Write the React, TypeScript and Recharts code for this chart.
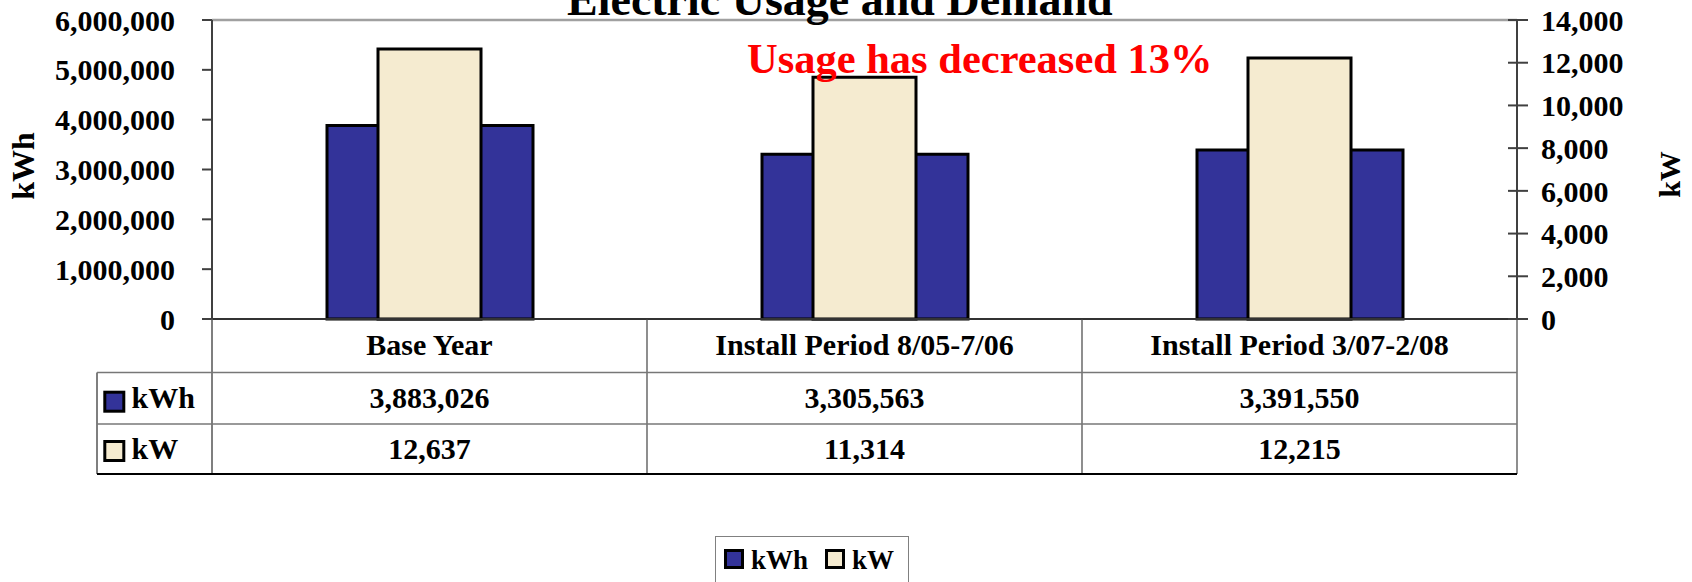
import React from 'react';
import { BarChart, Bar, XAxis, YAxis, Legend, ReferenceLine } from 'recharts';

const categories = ['Base Year', 'Install Period 8/05-7/06', 'Install Period 3/07-2/08'];
const seriesNames = ['kWh', 'kW'];
const kwhValues = [3883026, 3305563, 3391550];
const kwValues = [12637, 11314, 12215];
const kwhTicks = [0, 1000000, 2000000, 3000000, 4000000, 5000000, 6000000];
const kwTicks = [0, 2000, 4000, 6000, 8000, 10000, 12000, 14000];

const W = 1692;
const H = 582;
const PLOT_LEFT = 212;
const PLOT_RIGHT = 1517;
const PLOT_TOP = 20;
const PLOT_BOTTOM = 319;
const BAND = (PLOT_RIGHT - PLOT_LEFT) / categories.length;
const ROW1 = 372.5;
const ROW2 = 424;
const TABLE_BOTTOM = 474;
const TABLE_LEFT = 97;

const FONT = '"Liberation Serif", "Times New Roman", Times, serif';
const KWH_FILL = '#333399';
const KW_FILL = '#F5EBD0';

const fmt = (v: number) => v.toLocaleString('en-US');

const data = categories.map((name, i) => ({ name, kWh: kwhValues[i], kW: kwValues[i] }));

const textStyle = { fontFamily: FONT, fontWeight: 'bold' as const, fill: '#000' };

// category axis doubles as the data table below the plot
const TableTick = (props: any) => {
  const { x, payload } = props;
  const i = categories.indexOf(payload.value);
  const left = x - BAND / 2;
  const right = x + BAND / 2;
  return (
    <g>
      {i === 0 && (
        <g>
          <line x1={left} x2={left} y1={PLOT_BOTTOM} y2={TABLE_BOTTOM} stroke="#555" strokeWidth={1.5} />
          <line x1={TABLE_LEFT} x2={TABLE_LEFT} y1={ROW1} y2={TABLE_BOTTOM} stroke="#555" strokeWidth={1.5} />
          <line x1={TABLE_LEFT} x2={left} y1={ROW1} y2={ROW1} stroke="#777" strokeWidth={1.5} />
          <line x1={TABLE_LEFT} x2={left} y1={ROW2} y2={ROW2} stroke="#777" strokeWidth={1.5} />
          <line x1={TABLE_LEFT} x2={left} y1={TABLE_BOTTOM} y2={TABLE_BOTTOM} stroke="#000" strokeWidth={2} />
          <rect x={104.8} y={392.2} width={19} height={19} fill={KWH_FILL} stroke="#000" strokeWidth={3} />
          <rect x={104.8} y={441.5} width={19} height={19} fill={KW_FILL} stroke="#000" strokeWidth={3} />
          <text x={131.5} y={408} fontSize={30} {...textStyle}>kWh</text>
          <text x={131.5} y={459} fontSize={30} {...textStyle}>kW</text>
        </g>
      )}
      <line x1={right} x2={right} y1={PLOT_BOTTOM} y2={TABLE_BOTTOM} stroke="#444" strokeWidth={1.2} />
      <line x1={left} x2={right} y1={ROW1} y2={ROW1} stroke="#777" strokeWidth={1.5} />
      <line x1={left} x2={right} y1={ROW2} y2={ROW2} stroke="#777" strokeWidth={1.5} />
      <line x1={left} x2={right} y1={TABLE_BOTTOM} y2={TABLE_BOTTOM} stroke="#000" strokeWidth={2} />
      <text x={x} y={355} textAnchor="middle" fontSize={30} {...textStyle}>{payload.value}</text>
      <text x={x} y={408} textAnchor="middle" fontSize={30} {...textStyle}>{fmt(kwhValues[i])}</text>
      <text x={x} y={459} textAnchor="middle" fontSize={30} {...textStyle}>{fmt(kwValues[i])}</text>
    </g>
  );
};

const RightTick = (props: any) => {
  const { x, y, payload } = props;
  // Excel-style cross tick mark on the secondary axis
  return (
    <g>
      <line x1={x - 33} x2={x - 13} y1={y} y2={y} stroke="#404040" strokeWidth={2} />
      <text x={x} y={y} dy="0.355em" textAnchor="start" fontSize={30} {...textStyle}>
        {fmt(payload.value)}
      </text>
    </g>
  );
};

const LegendBox = (props: any) => {
  const items = [...(props.payload || [])].sort(
    (a: any, b: any) => seriesNames.indexOf(a.value) - seriesNames.indexOf(b.value)
  );
  const offsets = [0, 101];
  return (
    <svg width={194} height={52} style={{ display: 'block' }}>
      <rect x={0.5} y={0.5} width={193} height={60} fill="#fff" stroke="#808080" strokeWidth={1} />
      {items.map((item: any, i: number) => (
        <g key={item.value} transform={`translate(${offsets[i]},0)`}>
          <rect x={10.5} y={14.5} width={17} height={17} fill={item.color} stroke="#000" strokeWidth={3} />
          <text x={36} y={33} fontSize={27} {...textStyle}>{item.value}</text>
        </g>
      ))}
    </svg>
  );
};

export default function App() {
  return (
    <div style={{ position: 'absolute', left: 0, top: 0, width: W, height: H, overflow: 'hidden', background: '#fff' }}>
      <BarChart width={W} height={H} data={data} margin={{ top: PLOT_TOP, right: 0, bottom: 0, left: 0 }}>
        <XAxis
          xAxisId="a"
          dataKey="name"
          height={H - PLOT_BOTTOM}
          interval={0}
          axisLine={{ stroke: '#333', strokeWidth: 2 }}
          tickLine={false}
          tick={(p: any) => <TableTick {...p} />}
        />
        <XAxis xAxisId="b" dataKey="name" hide />
        <YAxis
          yAxisId="left"
          orientation="left"
          width={PLOT_LEFT}
          domain={[0, 6000000]}
          ticks={kwhTicks}
          interval={0}
          tickFormatter={fmt}
          tickSize={10}
          tickMargin={27}
          axisLine={{ stroke: '#404040', strokeWidth: 2 }}
          tickLine={{ stroke: '#404040', strokeWidth: 2 }}
          tick={{ fontSize: 30, fontWeight: 'bold', fill: '#000', fontFamily: FONT }}
        />
        <YAxis
          yAxisId="right"
          orientation="right"
          width={W - PLOT_RIGHT}
          domain={[0, 14000]}
          ticks={kwTicks}
          interval={0}
          tickSize={11}
          tickMargin={13}
          axisLine={{ stroke: '#404040', strokeWidth: 2 }}
          tickLine={false}
          tick={(p: any) => <RightTick {...p} />}
        />
        <ReferenceLine xAxisId="a" yAxisId="left" y={6000000} stroke="#a0a0a0" strokeWidth={2.5} />
        <Bar xAxisId="a" yAxisId="left" dataKey="kWh" name="kWh" fill={KWH_FILL} stroke="#000" strokeWidth={3} barSize={206} isAnimationActive={false} />
        <Bar xAxisId="b" yAxisId="right" dataKey="kW" name="kW" fill={KW_FILL} stroke="#000" strokeWidth={3} barSize={103} isAnimationActive={false} />
        <Legend
          layout="horizontal"
          verticalAlign="middle"
          align="center"
          wrapperStyle={{ left: 715, top: 536, width: 194, height: 52 }}
          content={(p: any) => <LegendBox {...p} />}
        />
      </BarChart>
      <svg width={W} height={H} style={{ position: 'absolute', left: 0, top: 0, pointerEvents: 'none' }}>
        <text x={567} y={15} fontSize={46} {...textStyle}>Electric Usage and Demand</text>
        <text x={747} y={73} fontSize={42.5} fontFamily={FONT} fontWeight="bold" fill="#FF0000">
          Usage has decreased 13%
        </text>
        <text transform="translate(33.5,166) rotate(-90)" textAnchor="middle" fontSize={32} {...textStyle}>kWh</text>
        <text transform="translate(1680,174.5) rotate(-90)" textAnchor="middle" fontSize={30} {...textStyle}>kW</text>
      </svg>
    </div>
  );
}
